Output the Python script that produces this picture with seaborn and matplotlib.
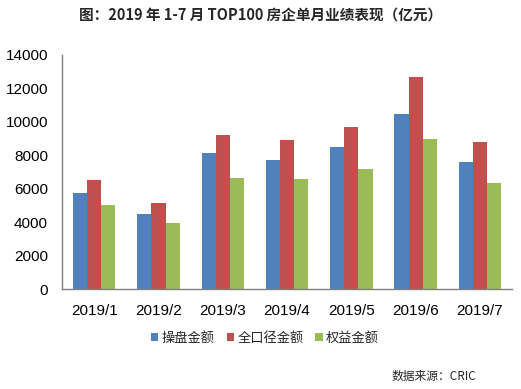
import pandas as pd
import matplotlib.pyplot as plt
import seaborn as sns

# values (亿元)
months = ['2019/1', '2019/2', '2019/3', '2019/4', '2019/5', '2019/6', '2019/7']
operate = [5760, 4500, 8150, 7740, 8520, 10490, 7620]
full = [6540, 5160, 9230, 8930, 9710, 12700, 8760]
equity = [5040, 3970, 6660, 6600, 7200, 8990, 6360]
series = ['操盘金额', '全口径金额', '权益金额']
colors = ['#4F81BD', '#C0504D', '#9BBB59']
yticks = [0, 2000, 4000, 6000, 8000, 10000, 12000, 14000]

df = pd.DataFrame({'month': months, series[0]: operate, series[1]: full, series[2]: equity})
df = df.melt(id_vars='month', var_name='type', value_name='amount')

sns.set_theme(style='white')
plt.rcParams['font.family'] = ['Liberation Sans', 'Noto Sans CJK SC', 'DejaVu Sans']

fig = plt.figure(figsize=(5.21, 3.89), dpi=100)
ax = fig.add_axes([0.119, 0.257, 0.864, 0.602])

sns.barplot(data=df, x='month', y='amount', hue='type', hue_order=series,
            palette=colors, width=0.66, saturation=1, linewidth=0, ax=ax, legend=True)

ax.set_ylim(0, 14000)
ax.set_yticks(yticks)
ax.set_yticklabels([str(v) for v in yticks], fontsize=11, color='black')
ax.set_xlim(-0.5, len(months) - 0.5)
ax.set_xticks(range(len(months)))
ax.set_xticklabels(months, fontsize=11, color='black')
ax.set_xlabel('')
ax.set_ylabel('')

# category separators on x axis
ax.set_xticks([i - 0.5 for i in range(len(months) + 1)], minor=True)
ax.tick_params(axis='x', which='major', length=0, pad=11)
ax.tick_params(axis='x', which='minor', length=4, direction='out', color='#808080', width=1)
ax.tick_params(axis='y', length=3, direction='out', color='#808080', width=1, pad=7)
ax.spines['top'].set_visible(False)
ax.spines['right'].set_visible(False)
for s in ['left', 'bottom']:
    ax.spines[s].set_color('#808080')
    ax.spines[s].set_linewidth(1)

leg = ax.legend(loc='center', bbox_to_anchor=(0.451, -0.212), ncol=3, frameon=False,
                fontsize=9.5, handlelength=0.55, handleheight=0.55, handletextpad=0.25,
                columnspacing=0.9)

fig.text(0.5, 0.962, '图：2019 年 1-7 月 TOP100 房企单月业绩表现（亿元）',
         ha='center', va='center', fontsize=10.5, fontweight='bold',
         family=['Noto Sans CJK SC', 'DejaVu Sans'])
fig.text(0.915, 0.033, '数据来源：CRIC', ha='right', va='center', fontsize=8.5,
         family=['Noto Sans CJK SC', 'DejaVu Sans'])

fig.savefig('out.png', dpi=100, facecolor='white')
